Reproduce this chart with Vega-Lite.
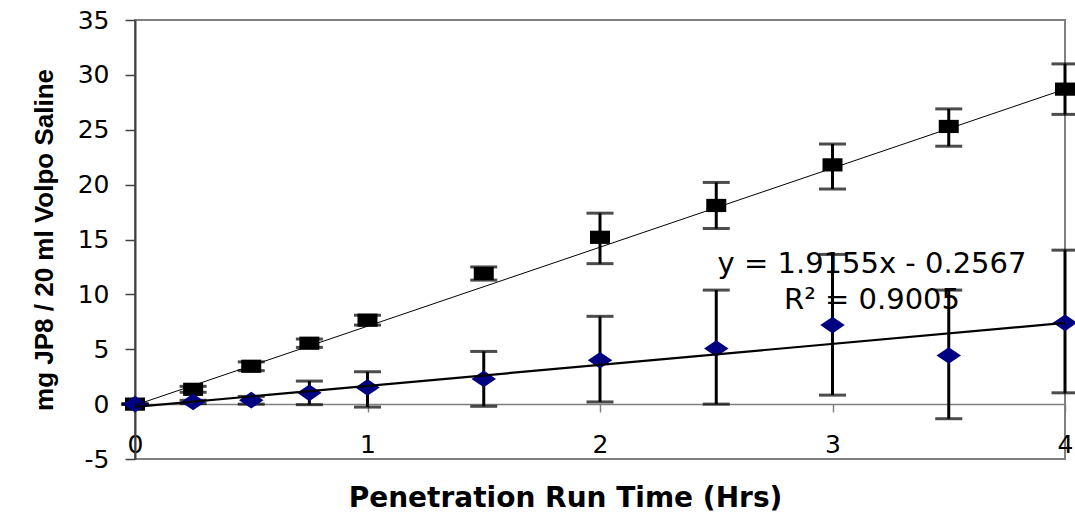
{
  "$schema": "https://vega.github.io/schema/vega-lite/v6.json",
  "width": 930,
  "height": 439,
  "autosize": {"type": "none"},
  "padding": {"left": 135, "top": 20, "right": 10, "bottom": 59},
  "background": "white",
  "config": {
    "view": {"stroke": "#808080", "strokeWidth": 2},
    "axis": {"grid": false, "labelColor": "black", "titleColor": "black"}
  },
  "datasets": {
    "pts": [
      {"series": "A", "t": 0, "mean": 0, "lo": 0, "hi": 0},
      {"series": "A", "t": 0.25, "mean": 1.35, "lo": 1.08, "hi": 1.62},
      {"series": "A", "t": 0.5, "mean": 3.45, "lo": 3.05, "hi": 3.85},
      {"series": "A", "t": 0.75, "mean": 5.55, "lo": 5.17, "hi": 5.93},
      {"series": "A", "t": 1, "mean": 7.65, "lo": 7.2, "hi": 8.1},
      {"series": "A", "t": 1.5, "mean": 11.9, "lo": 11.3, "hi": 12.5},
      {"series": "A", "t": 2, "mean": 15.2, "lo": 12.8, "hi": 17.4},
      {"series": "A", "t": 2.5, "mean": 18.1, "lo": 16.0, "hi": 20.2},
      {"series": "A", "t": 3, "mean": 21.8, "lo": 19.6, "hi": 23.7},
      {"series": "A", "t": 3.5, "mean": 25.3, "lo": 23.5, "hi": 26.9},
      {"series": "A", "t": 4, "mean": 28.7, "lo": 26.4, "hi": 31.0},
      {"series": "B", "t": 0, "mean": 0, "lo": 0, "hi": 0},
      {"series": "B", "t": 0.25, "mean": 0.2, "lo": 0.05, "hi": 0.35},
      {"series": "B", "t": 0.5, "mean": 0.36, "lo": 0.0, "hi": 0.7},
      {"series": "B", "t": 0.75, "mean": 1.03, "lo": -0.05, "hi": 2.1},
      {"series": "B", "t": 1, "mean": 1.52, "lo": -0.27, "hi": 2.95},
      {"series": "B", "t": 1.5, "mean": 2.3, "lo": -0.2, "hi": 4.8},
      {"series": "B", "t": 2, "mean": 4.0, "lo": 0.2, "hi": 8.0},
      {"series": "B", "t": 2.5, "mean": 5.07, "lo": 0.0, "hi": 10.39},
      {"series": "B", "t": 3, "mean": 7.2, "lo": 0.82, "hi": 13.64},
      {"series": "B", "t": 3.5, "mean": 4.43, "lo": -1.33, "hi": 10.39},
      {"series": "B", "t": 4, "mean": 7.41, "lo": 1.03, "hi": 14.03}
    ],
    "fits": [
      {"series": "A", "t": 0, "fit": -0.1},
      {"series": "A", "t": 4, "fit": 28.7},
      {"series": "B", "t": 0, "fit": -0.2567},
      {"series": "B", "t": 4, "fit": 7.405}
    ],
    "notes": [
      {"label": "y = 1.9155x - 0.2567", "t": 3.17, "v": 12.76},
      {"label": "R² = 0.9005", "t": 3.17, "v": 9.5}
    ]
  },
  "layer": [
    {
      "data": {"name": "notes"},
      "mark": {"type": "text", "font": "DejaVu Sans", "fontSize": 29, "color": "black", "align": "center", "baseline": "middle"},
      "encoding": {
        "x": {"field": "t", "type": "quantitative", "scale": {"domain": [0, 4], "nice": false, "zero": false},
          "axis": {
            "values": [0, 1, 2, 3, 4], "offset": -55, "domainColor": "#808080", "domainWidth": 1.5,
            "tickColor": "#808080", "tickSize": 8, "tickWidth": 1.5,
            "labelExpr": "datum.value + ''",
            "labelFont": "DejaVu Sans", "labelFontSize": 25, "labelPadding": 20, "labelFlush": false,
            "title": "Penetration Run Time (Hrs)", "titleFont": "DejaVu Sans", "titleFontSize": 28,
            "titleFontWeight": "bold", "titlePadding": 27, "titleX": 430
          }},
        "y": {"field": "v", "type": "quantitative", "scale": {"domain": [-5, 35], "nice": false, "zero": false},
          "axis": {
            "values": [-5, 0, 5, 10, 15, 20, 25, 30, 35], "domainColor": "#404040", "domainWidth": 2,
            "tickColor": "#404040", "tickSize": 10, "tickWidth": 1.5,
            "labelExpr": "datum.value + ''",
            "labelFont": "DejaVu Sans", "labelFontSize": 25, "labelPadding": 16,
            "title": "mg JP8 / 20 ml Volpo Saline", "titleFont": "Liberation Sans",
            "titleFontSize": 26, "titleFontWeight": "bold", "titlePadding": 20
          }},
        "text": {"field": "label", "type": "nominal"}
      }
    },
    {
      "data": {"name": "pts"},
      "mark": {"type": "rule", "color": "black", "strokeWidth": 3},
      "encoding": {
        "x": {"field": "t", "type": "quantitative"},
        "y": {"field": "lo", "type": "quantitative"},
        "y2": {"field": "hi"}
      }
    },
    {
      "data": {"name": "pts"},
      "mark": {"type": "tick", "orient": "horizontal", "color": "black", "size": 27, "thickness": 3},
      "encoding": {
        "x": {"field": "t", "type": "quantitative"},
        "y": {"field": "lo", "type": "quantitative"}
      }
    },
    {
      "data": {"name": "pts"},
      "mark": {"type": "tick", "orient": "horizontal", "color": "black", "size": 27, "thickness": 3},
      "encoding": {
        "x": {"field": "t", "type": "quantitative"},
        "y": {"field": "hi", "type": "quantitative"}
      }
    },
    {
      "data": {"name": "pts"},
      "mark": {"type": "point", "filled": true, "opacity": 1, "strokeWidth": 0},
      "encoding": {
        "x": {"field": "t", "type": "quantitative"},
        "y": {"field": "mean", "type": "quantitative"},
        "shape": {"field": "series", "type": "nominal", "legend": null,
          "scale": {"domain": ["A", "B"], "range": ["M-1,-0.66L1,-0.66L1,0.66L-1,0.66Z", "M-1,0L0,-0.68L1,0L0,0.68Z"]}},
        "color": {"field": "series", "type": "nominal", "legend": null,
          "scale": {"domain": ["A", "B"], "range": ["#000000", "#000080"]}},
        "size": {"field": "series", "type": "nominal", "legend": null,
          "scale": {"domain": ["A", "B"], "range": [400, 600]}}
      }
    },
    {
      "data": {"name": "fits"},
      "mark": {"type": "line", "color": "black"},
      "encoding": {
        "x": {"field": "t", "type": "quantitative"},
        "y": {"field": "fit", "type": "quantitative"},
        "detail": {"field": "series", "type": "nominal"},
        "strokeWidth": {"field": "series", "type": "nominal", "legend": null,
          "scale": {"domain": ["A", "B"], "range": [1, 2.2]}}
      }
    }
  ]
}
